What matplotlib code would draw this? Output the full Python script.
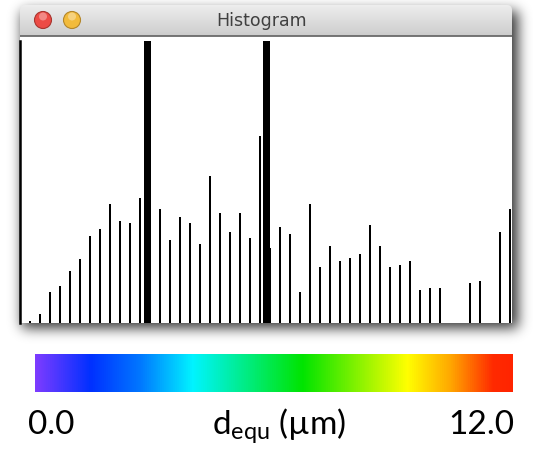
import numpy as np
import matplotlib
matplotlib.use("Agg")
import matplotlib.pyplot as plt
from matplotlib.colors import LinearSegmentedColormap
from matplotlib.patches import Circle, Rectangle, FancyBboxPatch

# ---- data -------------------------------------------------------------
bin_index = list(range(1, 50))
counts = [2, 9, 31, 37, 52, 64, 87, 94, 119, 102, 100, 125, 121, 114, 83,
          106, 100, 79, 147, 110, 91, 110, 85, 187, 75, 96, 89, 31, 119, 56,
          77, 62, 65, 69, 98, 77, 56, 58, 62, 33, 35, 35, 0, 0, 40, 42, 0,
          91, 114]
# two off-scale peaks (clipped at the top of the plot)
peak_index = [12.78, 24.68]
peak_counts = [400, 400]
count_max = 282
bin_max = 49.2

window_title = "Histogram"
cbar_min_label = "0.0"
cbar_max_label = "12.0"
cbar_label = r"d$_{\mathrm{equ}}$ (µm)"
cbar_stops = [0.0, 0.115, 0.22, 0.33, 0.56, 0.78, 0.87, 0.96, 1.0]
cbar_colors = ["#7d3cff", "#0030ff", "#0078ff", "#00f4ff", "#00e400",
               "#ffff00", "#ffa800", "#ff2a00", "#ff2400"]

# ---- figure -----------------------------------------------------------
W, H, DPI = 533, 454, 100
plt.rcParams["mathtext.fontset"] = "custom"
plt.rcParams["mathtext.rm"] = "Lato"
plt.rcParams["mathtext.it"] = "Lato:italic"
fig = plt.figure(figsize=(W / DPI, H / DPI), dpi=DPI)
fig.patch.set_facecolor("white")


def px_axes(x0, y0, x1, y1, **kw):
    """Axes placed by pixel box (origin at top-left)."""
    return fig.add_axes([x0 / W, 1 - y1 / H, (x1 - x0) / W, (y1 - y0) / H], **kw)


# background layer in pixel coordinates: window shadow and chrome
bg = px_axes(0, 0, W, H)
bg.set_xlim(0, W)
bg.set_ylim(H, 0)
bg.axis("off")

win_x0, win_x1, win_y0, win_y1 = 20, 512, 5, 323


def blur(a, s):
    r = int(3 * s)
    k = np.exp(-0.5 * (np.arange(-r, r + 1) / s) ** 2)
    k /= k.sum()
    a = np.apply_along_axis(lambda v: np.convolve(v, k, mode="same"), 0, a)
    a = np.apply_along_axis(lambda v: np.convolve(v, k, mode="same"), 1, a)
    return a


mask = np.zeros((H, W))
mask[win_y0 + 6:win_y1 + 5, win_x0 + 2:win_x1 + 6] = 1.0
mask = blur(mask, 6.5)
shadow = np.zeros((H, W, 4))
shadow[..., 3] = np.clip(mask * 0.8, 0, 1)
bg.imshow(shadow, extent=[0, W, H, 0], interpolation="bilinear", zorder=0)

# window body
bg.add_patch(Rectangle((win_x0, 35), win_x1 - win_x0, win_y1 - 35,
                       facecolor="white", edgecolor="none", zorder=1))

# title bar with a vertical grey gradient and rounded top corners
tb_clip = FancyBboxPatch((win_x0, win_y0), win_x1 - win_x0, 40,
                         boxstyle="round,pad=0,rounding_size=5",
                         transform=bg.transData, facecolor="none",
                         edgecolor="none")
bg.add_patch(tb_clip)
grad = np.linspace(0.93, 0.80, 64).reshape(-1, 1)
im = bg.imshow(grad, cmap="gray", vmin=0, vmax=1, aspect="auto",
               extent=[win_x0, win_x1, 36, win_y0], zorder=2)
im.set_clip_path(tb_clip)
bg.plot([win_x0, win_x1], [36, 36], color="#6a6a6a", lw=1.3, zorder=3,
        solid_capstyle="butt")

# window buttons
for cx, face, edge in [(43, "#ec4b45", "#a8352f"), (72, "#f2bb3c", "#b3862a")]:
    bg.add_patch(Circle((cx, 20), 8.5, facecolor=face, edgecolor=edge,
                        lw=0.8, zorder=4))
    bg.add_patch(Circle((cx, 16.5), 4.0, facecolor="white", alpha=0.35,
                        edgecolor="none", zorder=5))

bg.text(262, 21, window_title, ha="center", va="center", fontsize=12.5,
        color="#404040", family=["DejaVu Sans"], zorder=5)

# ---- histogram --------------------------------------------------------
ax = px_axes(win_x0, 40.5, win_x1, 322.7)
ax.set_facecolor("white")
ax.bar(bin_index, counts, width=0.22, color="black", align="center")
ax.bar(peak_index, peak_counts, width=0.72, color="black", align="center")
ax.set_xlim(0, bin_max)
ax.set_ylim(0, count_max)
ax.set_xticks([])
ax.set_yticks([])
for side in ("top", "right", "bottom"):
    ax.spines[side].set_visible(False)
ax.spines["left"].set_linewidth(1.8)
ax.spines["left"].set_color("black")

# ---- colour bar -------------------------------------------------------
cmap = LinearSegmentedColormap.from_list("dequ", list(zip(cbar_stops, cbar_colors)))
cax = px_axes(35, 354, 513, 392)
cax.imshow(np.linspace(0, 1, 512).reshape(1, -1), cmap=cmap, aspect="auto",
           extent=[0, 1, 0, 1])
cax.axis("off")

label_font = ["Lato", "DejaVu Sans"]
bg.text(28, 434, cbar_min_label, ha="left", va="baseline", fontsize=24,
        family=label_font, color="black")
bg.text(514, 434, cbar_max_label, ha="right", va="baseline", fontsize=24,
        family=label_font, color="black")
bg.text(279, 434, cbar_label, ha="center", va="baseline", fontsize=24,
        family=label_font, color="black")

fig.savefig("out.png", dpi=DPI)
